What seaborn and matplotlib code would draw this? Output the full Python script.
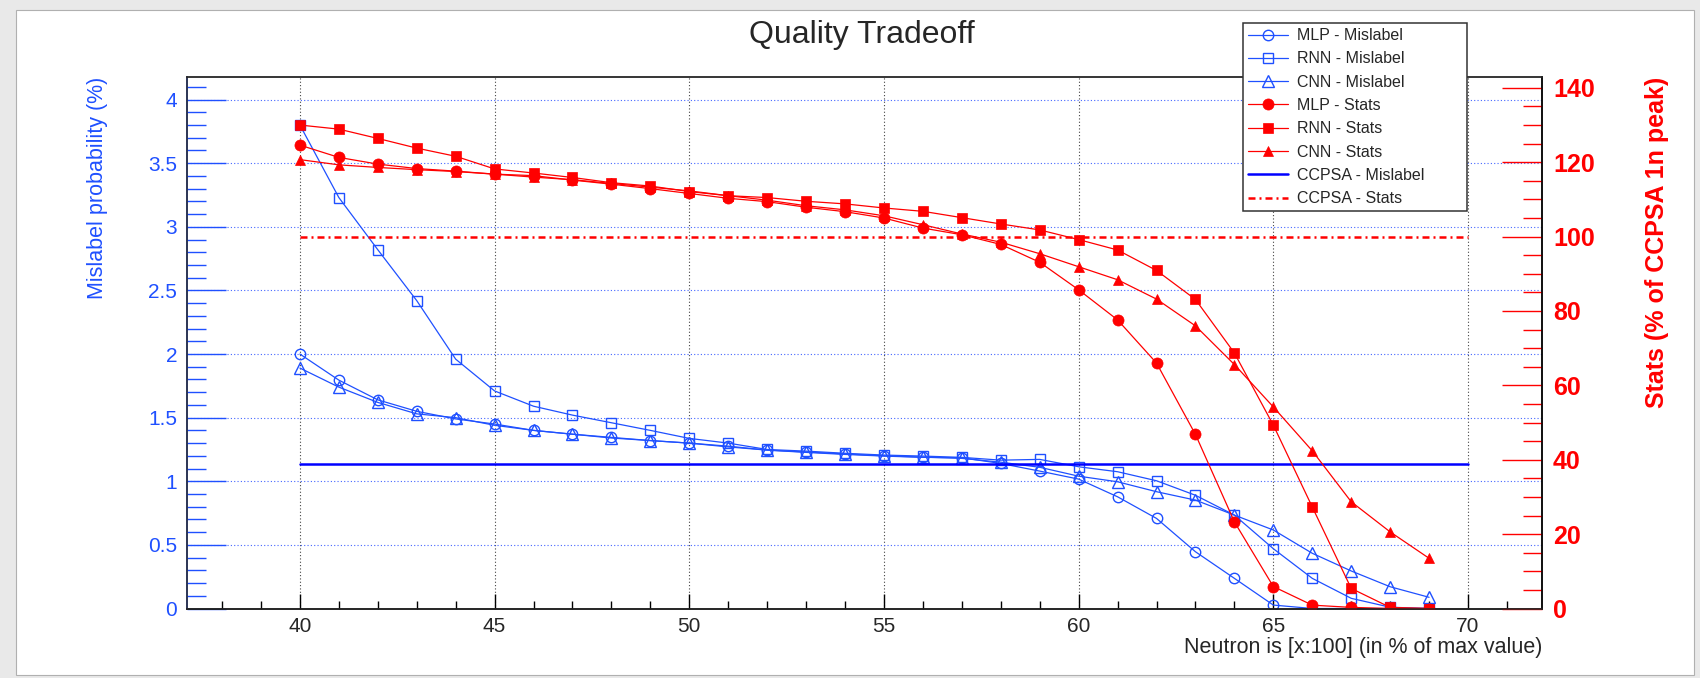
import numpy as np
import pandas as pd
import matplotlib
matplotlib.use('Agg')
import matplotlib.pyplot as plt
from matplotlib.ticker import MultipleLocator
from matplotlib.patches import Rectangle
import seaborn as sns

# threshold scan, in % of max value
x_vals = list(range(40, 70))

mlp_mislabel = [2.00, 1.795, 1.64, 1.55, 1.49, 1.45, 1.40, 1.37, 1.345, 1.32,
                1.30, 1.276, 1.245, 1.227, 1.211, 1.198, 1.188, 1.185, 1.14, 1.08,
                1.017, 0.878, 0.708, 0.446, 0.237, 0.027, 0.0, 0.0, 0.0, 0.0]
rnn_mislabel = [3.80, 3.23, 2.82, 2.42, 1.96, 1.71, 1.59, 1.52, 1.46, 1.40,
                1.337, 1.30, 1.25, 1.237, 1.22, 1.206, 1.198, 1.188, 1.166, 1.172,
                1.114, 1.075, 1.004, 0.89, 0.734, 0.47, 0.237, 0.08, 0.01, 0.0]
cnn_mislabel = [1.89, 1.74, 1.62, 1.53, 1.50, 1.44, 1.40, 1.37, 1.34, 1.32,
                1.30, 1.27, 1.245, 1.23, 1.215, 1.20, 1.19, 1.18, 1.15, 1.11,
                1.04, 0.996, 0.918, 0.852, 0.734, 0.617, 0.434, 0.295, 0.171, 0.088]

mlp_stats = [124.6, 121.3, 119.5, 118.3, 117.6, 116.8, 116.4, 115.2, 114.1, 112.9,
             111.6, 110.3, 109.4, 107.9, 106.7, 105.0, 102.3, 100.5, 97.9, 93.1,
             85.7, 77.6, 66.0, 46.8, 23.3, 5.9, 0.9, 0.3, 0.0, 0.0]
rnn_stats = [130.0, 128.9, 126.4, 123.8, 121.6, 118.2, 117.1, 115.9, 114.5, 113.6,
             112.1, 111.0, 110.5, 109.5, 108.8, 107.7, 106.8, 105.1, 103.4, 101.8,
             99.2, 96.4, 90.9, 83.1, 68.7, 49.3, 27.3, 5.4, 0.3, 0.0]
cnn_stats = [120.7, 119.3, 118.6, 118.0, 117.5, 116.8, 116.0, 115.3, 114.3, 113.3,
             112.3, 111.0, 109.8, 108.3, 107.2, 105.6, 103.2, 100.7, 98.5, 95.4,
             91.9, 88.4, 83.2, 76.0, 65.6, 54.2, 42.4, 28.7, 20.6, 13.5]

ccpsa_x = [40, 70]
ccpsa_mislabel = [1.137, 1.137]
ccpsa_stats = [100, 100]

df = pd.DataFrame({'x': x_vals,
                   'mlp_mis': mlp_mislabel, 'rnn_mis': rnn_mislabel, 'cnn_mis': cnn_mislabel,
                   'mlp_st': mlp_stats, 'rnn_st': rnn_stats, 'cnn_st': cnn_stats})
ccpsa = pd.DataFrame({'x': ccpsa_x, 'mis': ccpsa_mislabel, 'st': ccpsa_stats})

sns.set_theme(style='white')
plt.rcParams['font.family'] = ['Liberation Sans', 'DejaVu Sans']

BLUE = '#1f50ff'
RED = '#ff0000'

W, H = 1700, 678
fig = plt.figure(figsize=(17, 6.78), dpi=100)
fig.patch.set_facecolor('#e9e9e9')
fig.add_artist(Rectangle((16 / W, 1 - 675 / H), (1694 - 16) / W, (675 - 10) / H,
                         transform=fig.transFigure, facecolor='white',
                         edgecolor='#b0b0b0', linewidth=0.8, zorder=-1))

ax = fig.add_axes([187 / W, 1 - 608.5 / H, (1542 - 187) / W, (608.5 - 76.7) / H])
ax2 = ax.twinx()

# mislabel (left axis)
sns.lineplot(data=df, x='x', y='mlp_mis', ax=ax, color=BLUE, linewidth=0.9, marker='o',
             markersize=7.5, markerfacecolor='none', markeredgecolor=BLUE, markeredgewidth=1,
             label='MLP - Mislabel', legend=False)
sns.lineplot(data=df, x='x', y='rnn_mis', ax=ax, color=BLUE, linewidth=0.9, marker='s',
             markersize=7.5, markerfacecolor='none', markeredgecolor=BLUE, markeredgewidth=1,
             label='RNN - Mislabel', legend=False)
sns.lineplot(data=df, x='x', y='cnn_mis', ax=ax, color=BLUE, linewidth=0.9, marker='^',
             markersize=8, markerfacecolor='none', markeredgecolor=BLUE, markeredgewidth=1,
             label='CNN - Mislabel', legend=False)
sns.lineplot(data=ccpsa, x='x', y='mis', ax=ax, color='#0000ff', linewidth=1.8,
             label='CCPSA - Mislabel', legend=False)

# stats (right axis)
sns.lineplot(data=df, x='x', y='mlp_st', ax=ax2, color=RED, linewidth=0.9, marker='o',
             markersize=8, markerfacecolor=RED, markeredgecolor=RED, markeredgewidth=0.5,
             label='MLP - Stats', legend=False)
sns.lineplot(data=df, x='x', y='rnn_st', ax=ax2, color=RED, linewidth=0.9, marker='s',
             markersize=7.5, markerfacecolor=RED, markeredgecolor=RED, markeredgewidth=0.5,
             label='RNN - Stats', legend=False)
sns.lineplot(data=df, x='x', y='cnn_st', ax=ax2, color=RED, linewidth=0.9, marker='^',
             markersize=7, markerfacecolor=RED, markeredgecolor=RED, markeredgewidth=0.5,
             label='CNN - Stats', legend=False)
sns.lineplot(data=ccpsa, x='x', y='st', ax=ax2, color=RED, linewidth=1.8,
             linestyle=(0, (2.8, 1.6, 0.8, 1.6)), label='CCPSA - Stats', legend=False)

ax.set_xlim(37.1, 71.9)
ax.set_ylim(0, 4.18)
ax2.set_ylim(0, 143)

ax.xaxis.set_major_locator(MultipleLocator(5))
ax.xaxis.set_minor_locator(MultipleLocator(1))
ax.yaxis.set_major_locator(MultipleLocator(0.5))
ax.yaxis.set_minor_locator(MultipleLocator(0.1))
ax2.yaxis.set_major_locator(MultipleLocator(20))
ax2.yaxis.set_minor_locator(MultipleLocator(5))
ax.yaxis.set_major_formatter(plt.FuncFormatter(lambda v, p: f'{v:g}'))

ax.tick_params(axis='x', which='major', direction='in', length=11, width=1, color='black',
               labelsize=15, pad=6, bottom=True, top=False)
ax.tick_params(axis='x', which='minor', direction='in', length=5.5, width=1, color='black',
               bottom=True, top=False)
ax.tick_params(axis='y', which='major', direction='in', length=28, width=1, color=BLUE,
               labelcolor=BLUE, labelsize=15, pad=7, left=True)
ax.tick_params(axis='y', which='minor', direction='in', length=14, width=1, color=BLUE, left=True)
ax2.tick_params(axis='y', which='major', direction='in', length=29, width=1, color=RED,
                labelcolor=RED, labelsize=18, pad=8, right=True)
ax2.tick_params(axis='y', which='minor', direction='in', length=14, width=1, color=RED, right=True)
for lab in ax2.get_yticklabels():
    lab.set_fontweight('bold')

ax.grid(False)
ax2.grid(False)
ax.xaxis.grid(True, which='major', color='#444444', linestyle=(0, (1, 2)), linewidth=0.8)
ax.yaxis.grid(True, which='major', color='#4466ff', linestyle=(0, (1, 2)), linewidth=0.8)
ax.set_axisbelow(True)

ax.spines['left'].set_color(BLUE)
ax.spines['bottom'].set_color('black')
ax.spines['top'].set_color('#555555')
ax2.spines['right'].set_color('black')
for s in list(ax.spines.values()) + list(ax2.spines.values()):
    s.set_linewidth(1.1)

ax.set_xlabel('Neutron is [x:100] (in % of max value)', fontsize=15.5, loc='right')
ax.xaxis.set_label_coords(1.0, -0.053)
ax.set_ylabel('Mislabel probability (%)', fontsize=15.5, color=BLUE, loc='top')
ax.yaxis.set_label_coords(-0.058, 1.0)
ax2.set_ylabel('Stats (% of CCPSA 1n peak)', fontsize=18, color=RED, fontweight='bold',
               loc='top')
ax2.yaxis.set_label_coords(1.076, 1.0)

fig.text(862 / W, 1 - 42.5 / H, 'Quality Tradeoff', ha='center', va='baseline', fontsize=23)

handles = {}
for a in (ax, ax2):
    for h, l in zip(*a.get_legend_handles_labels()):
        handles[l] = h
order = ['MLP - Mislabel', 'RNN - Mislabel', 'CNN - Mislabel', 'MLP - Stats',
         'RNN - Stats', 'CNN - Stats', 'CCPSA - Mislabel', 'CCPSA - Stats']
leg = fig.legend([handles[k] for k in order], order, loc='upper left',
                 bbox_to_anchor=(1243 / W, 1 - 24 / H, (1467 - 1243) / W, 0.001),
                 mode='expand', fontsize=11.5, frameon=True, fancybox=False, shadow=False,
                 framealpha=1, edgecolor='#333333', borderaxespad=0, numpoints=1,
                 handlelength=2.5, handletextpad=0.55, labelspacing=0.52, borderpad=0.3)
leg.get_frame().set_linewidth(1.1)

fig.savefig('out.png', dpi=100, facecolor=fig.get_facecolor())
